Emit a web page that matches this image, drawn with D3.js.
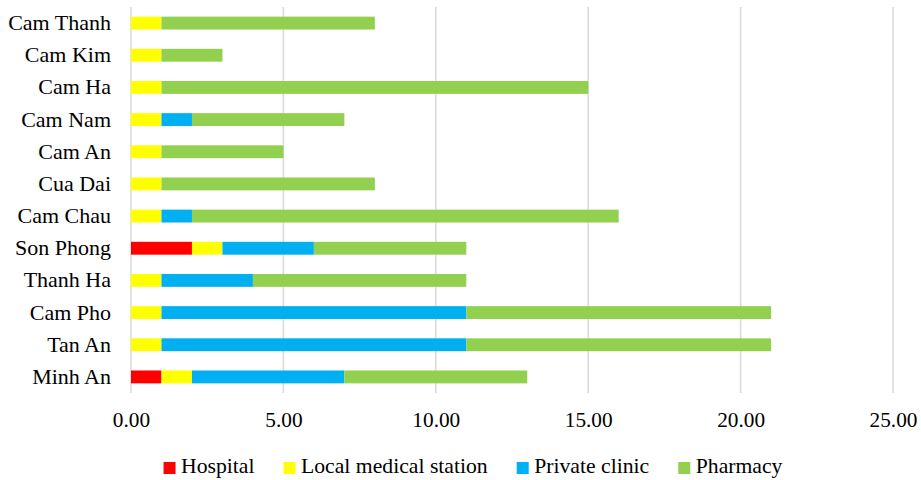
<!DOCTYPE html>
<html>
<head>
<meta charset="utf-8">
<script src="https://cdn.jsdelivr.net/npm/d3@7"></script>
</head>
<body style="margin:0">
<svg id="chart" width="921" height="480"></svg>
<script>
// data, top to bottom as in the chart
const categories = ["Cam Thanh", "Cam Kim", "Cam Ha", "Cam Nam", "Cam An", "Cua Dai",
  "Cam Chau", "Son Phong", "Thanh Ha", "Cam Pho", "Tan An", "Minh An"]
const seriesNames = ["Hospital", "Local medical station", "Private clinic", "Pharmacy"]
const hospital = [0, 0, 0, 0, 0, 0, 0, 2, 0, 0, 0, 1]
const localStation = [1, 1, 1, 1, 1, 1, 1, 1, 1, 1, 1, 1]
const privateClinic = [0, 0, 0, 1, 0, 0, 1, 3, 3, 10, 10, 5]
const pharmacy = [7, 2, 14, 5, 4, 7, 14, 5, 7, 10, 10, 6]
const xTicks = [0, 5, 10, 15, 20, 25]
const colors = ["#ff0000", "#ffff00", "#00b0f0", "#92d050"]

const table = categories.map((c, i) => ({
  name: c,
  "Hospital": hospital[i],
  "Local medical station": localStation[i],
  "Private clinic": privateClinic[i],
  "Pharmacy": pharmacy[i],
}))

const plotLeft = 131
const plotTop = 7
const plotWidth = 762
const plotHeight = 386

const svg = d3.select("#chart")
  .attr("font-family", "Liberation Serif")
  .attr("font-size", 21.5)

const bounds = svg.append("g")
  .attr("transform", `translate(${plotLeft},${plotTop})`)

const xScale = d3.scaleLinear()
  .domain([0, 25])
  .range([0, plotWidth])

const yScale = d3.scaleBand()
  .domain(categories)
  .range([0, plotHeight])
  .paddingInner(0.6)
  .paddingOuter(0.3)

const color = d3.scaleOrdinal().domain(seriesNames).range(colors)

// gridlines
bounds.append("g")
  .selectAll("line")
  .data(xTicks)
  .join("line")
    .attr("x1", d => xScale(d))
    .attr("x2", d => xScale(d))
    .attr("y1", 0)
    .attr("y2", plotHeight)
    .attr("stroke", "#d9d9d9")
    .attr("stroke-width", 1.5)

// bars
const stacked = d3.stack().keys(seriesNames)(table)
bounds.append("g")
  .selectAll("g")
  .data(stacked)
  .join("g")
    .attr("fill", d => color(d.key))
  .selectAll("rect")
  .data(d => d)
  .join("rect")
    .attr("x", d => xScale(d[0]))
    .attr("y", d => yScale(d.data.name))
    .attr("width", d => xScale(d[1]) - xScale(d[0]))
    .attr("height", yScale.bandwidth())

// x axis labels
const xAxis = bounds.append("g")
  .attr("transform", `translate(0,${plotHeight})`)
  .call(d3.axisBottom(xScale).tickValues(xTicks).tickFormat(d3.format(".2f")).tickSize(0).tickPadding(19))
  .attr("font-family", "Liberation Serif")
  .attr("font-size", 21.3)
xAxis.select(".domain").remove()
xAxis.selectAll("text").attr("fill", "#000")

// y axis labels
const yAxis = bounds.append("g")
  .call(d3.axisLeft(yScale).tickSize(0).tickPadding(20))
  .attr("font-family", "Liberation Serif")
  .attr("font-size", 22)
yAxis.select(".domain").remove()
yAxis.selectAll("text").attr("fill", "#000")

// legend
const legend = svg.append("g")
  .attr("font-size", 21.7)
const items = legend.selectAll("g")
  .data(seriesNames)
  .join("g")
items.append("rect")
  .attr("width", 12)
  .attr("height", 12)
  .attr("y", -11)
  .attr("fill", d => color(d))
items.append("text")
  .attr("x", 17.5)
  .attr("fill", "#000")
  .text(d => d)

let offset = 0
items.each(function () {
  const w = d3.select(this).select("text").node().getComputedTextLength()
  d3.select(this).attr("transform", `translate(${offset},0)`)
  offset += 17.5 + w + 29
})
const legendWidth = offset - 29
legend.attr("transform", `translate(${473 - legendWidth / 2},473)`)
</script>
</body>
</html>
